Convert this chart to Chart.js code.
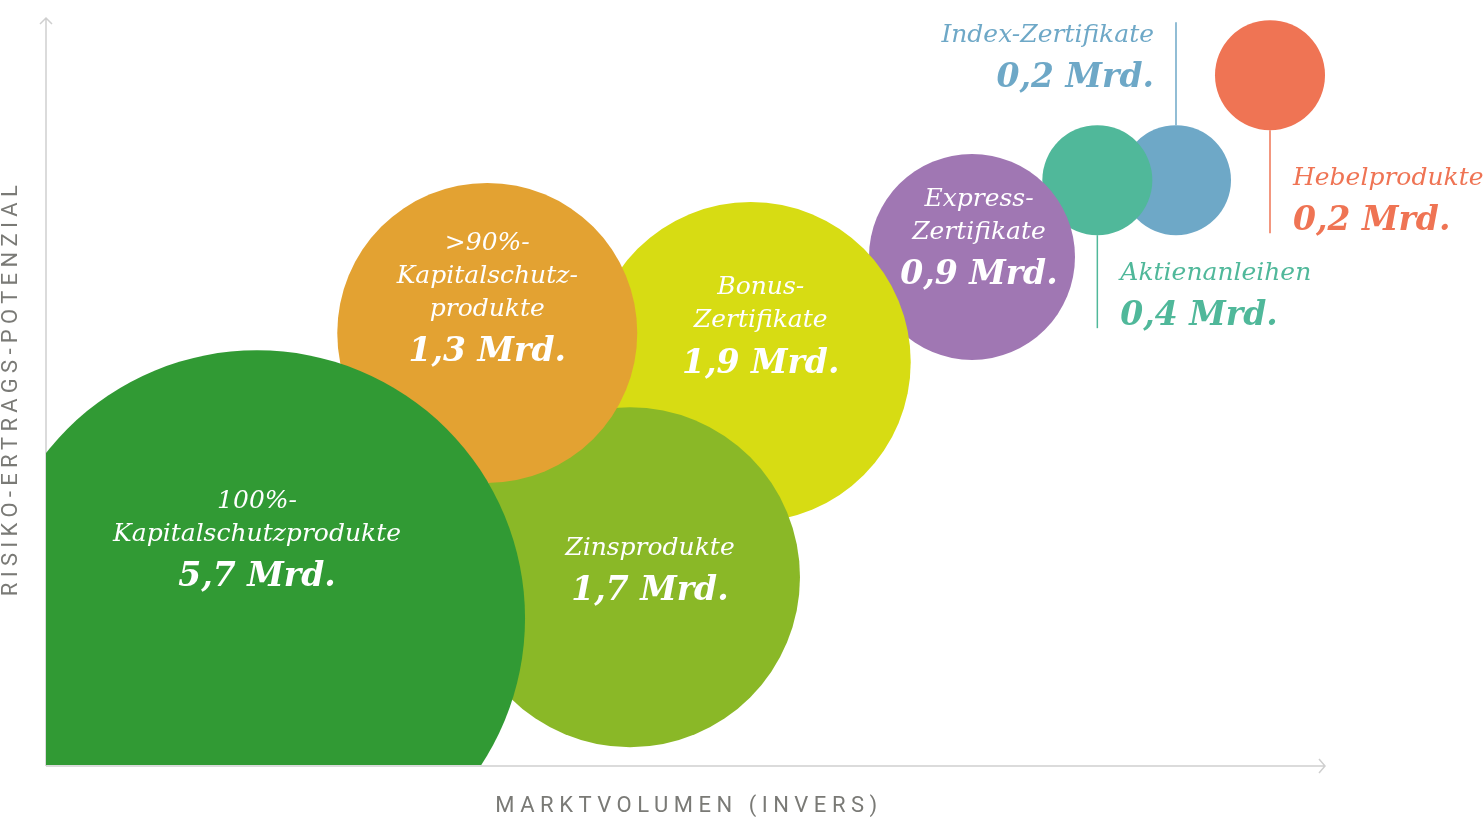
<!DOCTYPE html>
<html lang="de">
<head>
<meta charset="utf-8">
<title>Marktvolumen und Risiko-Ertrags-Potenzial</title>
<script src="https://cdn.jsdelivr.net/npm/chart.js@4.4.1/dist/chart.umd.min.js"></script>
<style>
  html, body { margin: 0; padding: 0; background: #fff; }
  #wrap { width: 1484px; height: 819px; position: relative; }
</style>
</head>
<body>
<div id="wrap"><canvas id="chart"></canvas></div>
<script>
/* ── Strukturierte Produkte: Marktvolumen vs. Risiko ── */

// ── Data (order = drawing order, last one on top) ──
const NAMES = [
  ['Hebelprodukte'],
  ['Index-Zertifikate'],
  ['Aktienanleihen'],
  ['Express-', 'Zertifikate'],
  ['Bonus-', 'Zertifikate'],
  ['Zinsprodukte'],
  ['>90%-', 'Kapitalschutz-', 'produkte'],
  ['100%-', 'Kapitalschutzprodukte'],
];
const VOLUMES  = ['0,2', '0,2', '0,4', '0,9', '1,9', '1,7', '1,3', '5,7'];   // Mrd.
const MARKT_X  = [95.7, 88.35, 82.2, 72.4, 55.1, 45.66, 34.5, 16.5];         // Marktvolumen (invers)
const RISIKO_Y = [92.6, 78.5, 78.5, 68.2, 54.1, 25.2, 58.0, 19.7];           // Risiko-Ertrags-Potenzial
const BUBBLE_R = [55, 55, 55, 103, 160, 170, 150, 268];

const COLORS = {
  hebel:  '#ef7454',
  index:  '#6ea8c7',
  aktien: '#50b89a',
  express:'#a077b3',
  bonus:  '#d7dc13',
  zins:   '#8ab827',
  kap90:  '#e3a232',
  kap100: '#319a34',
  axis:   '#cfcfcf',
  title:  '#7a7a76',
  white:  '#ffffff',
};
const FILL = [COLORS.hebel, COLORS.index, COLORS.aktien, COLORS.express,
              COLORS.bonus, COLORS.zins, COLORS.kap90, COLORS.kap100];

// label placement relative to the bubble centre (px)
const LABEL_POS = [
  { dx: 23,  dy: 103,  align: 'left',   color: COLORS.hebel,  leader: { side: 1,  len: 103 } },
  { dx: -22, dy: -145, align: 'right',  color: COLORS.index,  leader: { side: -1, len: 103 } },
  { dx: 23,  dy: 93,   align: 'left',   color: COLORS.aktien, leader: { side: 1,  len: 93 } },
  { dx: 7,   dy: -57,  align: 'center', color: COLORS.white },
  { dx: 10,  dy: -74,  align: 'center', color: COLORS.white },
  { dx: 20,  dy: -29,  align: 'center', color: COLORS.white },
  { dx: 0,   dy: -89,  align: 'center', color: COLORS.white },
  { dx: 0,   dy: -117, align: 'center', color: COLORS.white },
];

const NAME_FONT  = 'italic 25px "DejaVu Serif", serif';
const VALUE_FONT = 'italic bold 33px "DejaVu Serif", serif';
const LINE_H = 33;
const VALUE_GAP = 43;

// ── Axes + titles ──
const axesPlugin = {
  id: 'arrowAxes',
  beforeDatasetsDraw(chart) {
    const { ctx, chartArea: a } = chart;
    ctx.save();
    ctx.strokeStyle = COLORS.axis;
    ctx.lineWidth = 1.5;
    ctx.beginPath();
    ctx.moveTo(a.left, a.bottom + 1);
    ctx.lineTo(a.left, a.top - 2);
    ctx.moveTo(a.left - 6, a.top + 4);
    ctx.lineTo(a.left, a.top - 2);
    ctx.lineTo(a.left + 6, a.top + 4);
    ctx.moveTo(a.left, a.bottom + 1);
    ctx.lineTo(a.right, a.bottom + 1);
    ctx.moveTo(a.right - 6, a.bottom - 6);
    ctx.lineTo(a.right, a.bottom + 1);
    ctx.lineTo(a.right - 6, a.bottom + 8);
    ctx.stroke();

    ctx.fillStyle = COLORS.title;
    ctx.font = '22px "Liberation Sans Narrow", Roboto, sans-serif';
    ctx.letterSpacing = '5.5px';
    ctx.textAlign = 'center';
    ctx.textBaseline = 'middle';
    ctx.fillText('MARKTVOLUMEN (INVERS)', 689, 806);

    ctx.translate(11, 391);
    ctx.rotate(-Math.PI / 2);
    ctx.letterSpacing = '5.3px';
    ctx.fillText('RISIKO-ERTRAGS-POTENZIAL', 3, 0);
    ctx.restore();
  }
};

// ── Bubble labels ──
const labelPlugin = {
  id: 'bubbleLabels',
  afterDatasetsDraw(chart) {
    const ctx = chart.ctx;
    const meta = chart.getDatasetMeta(0);
    ctx.save();
    ctx.textBaseline = 'middle';
    meta.data.forEach((el, i) => {
      const p = LABEL_POS[i];
      const r = BUBBLE_R[i];
      if (p.leader) {
        const y0 = el.y + p.leader.side * r;
        ctx.strokeStyle = p.color;
        ctx.lineWidth = 1.5;
        ctx.beginPath();
        ctx.moveTo(el.x, y0);
        ctx.lineTo(el.x, y0 + p.leader.side * p.leader.len);
        ctx.stroke();
      }
      ctx.fillStyle = p.color;
      ctx.textAlign = p.align;
      const x = el.x + p.dx;
      let y = el.y + p.dy;
      ctx.font = NAME_FONT;
      NAMES[i].forEach((line, k) => {
        ctx.fillText(line, x, y + k * LINE_H);
      });
      y += (NAMES[i].length - 1) * LINE_H + VALUE_GAP;
      ctx.font = VALUE_FONT;
      ctx.fillText(`${VOLUMES[i]} Mrd.`, x, y);
    });
    ctx.restore();
  }
};

new Chart(document.getElementById('chart'), {
  type: 'bubble',
  data: {
    datasets: [{
      data: MARKT_X.map((x, i) => ({ x, y: RISIKO_Y[i], r: BUBBLE_R[i] })),
      backgroundColor: FILL,
      borderWidth: 0,
      hoverBorderWidth: 0,
      clip: { left: 0, bottom: 0, top: false, right: false },
    }]
  },
  options: {
    responsive: true,
    maintainAspectRatio: false,
    animation: false,
    events: [],
    layout: { autoPadding: false, padding: { left: 46, right: 159, top: 20, bottom: 54 } },
    plugins: { legend: { display: false }, tooltip: { enabled: false } },
    scales: {
      x: { type: 'linear', display: false, min: 0, max: 100 },
      y: { type: 'linear', display: false, min: 0, max: 100 },
    }
  },
  plugins: [axesPlugin, labelPlugin]
});
</script>
</body>
</html>
